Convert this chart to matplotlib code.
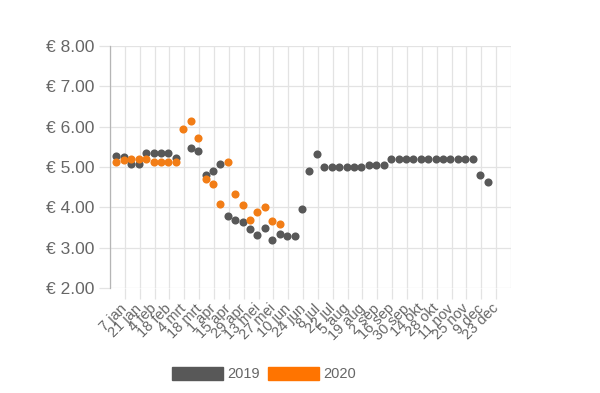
"""Weekly price per kg: 2019 vs 2020, scatter on a weekly time axis."""
import numpy as np
import pandas as pd
import matplotlib
matplotlib.use("Agg")
from matplotlib import pyplot as plt
from matplotlib.patches import Patch

# data (weekly, Sunday dates; 2020 plotted on the 2019 calendar)
start_date = "2018-12-30"
prices_2019 = [5.28, 5.25, 5.07, 5.07, 5.34, 5.34, 5.34, 5.34, 5.22, np.nan,
               5.48, 5.40, 4.79, 4.90, 5.08, 3.78, 3.70, 3.64, 3.47, 3.32,
               3.50, 3.20, 3.34, 3.29, 3.29, 3.96, 4.90, 5.32, 4.99, 4.99,
               4.99, 4.99, 4.99, 4.99, 5.05, 5.05, 5.05, 5.19, 5.19, 5.19,
               5.19, 5.19, 5.19, 5.19, 5.19, 5.19, 5.19, 5.19, 5.19, 4.79,
               4.64]
prices_2020 = [5.13, 5.17, 5.19, 5.19, 5.19, 5.13, 5.13, 5.13, 5.13, 5.93,
               6.14, 5.72, 4.71, 4.57, 4.08, 5.13, 4.32, 4.05, 3.70, 3.88,
               4.02, 3.67, 3.59]
tick_labels = ["7 jan", "21 jan", "4 feb", "18 feb", "4 mrt", "18 mrt",
               "1 apr", "15 apr", "29 apr", "13 mei", "27 mei", "10 jun",
               "24 jun", "8 jul", "22 jul", "5 aug", "19 aug", "2 sep",
               "16 sep", "30 sep", "14 okt", "28 okt", "11 nov", "25 nov",
               "9 dec", "23 dec"]
series = ["2019", "2020"]

GRAY = "#585858"
ORANGE = "#f27d16"
TEXT = "#666666"
GRID = "#e3e3e3"

plt.rcParams["font.family"] = ["Liberation Sans", "DejaVu Sans"]

dates_2019 = pd.date_range(start_date, periods=len(prices_2019), freq="7D")
dates_2020 = pd.date_range(start_date, periods=len(prices_2020), freq="7D")
tick_dates = pd.date_range("2019-01-07", periods=len(tick_labels), freq="14D")
grid_dates = pd.date_range("2018-12-24", "2020-01-06", freq="14D")

fig = plt.figure(figsize=(6.0, 3.93), dpi=100)
ax = fig.add_axes([0.1835, 0.2664, 0.668, 0.6173])

ax.scatter(dates_2019, prices_2019, s=34, color=GRAY, zorder=3, linewidths=0)
ax.scatter(dates_2020, prices_2020, s=34, color=ORANGE, zorder=3, linewidths=0)

ax.set_xlim(grid_dates[0], grid_dates[-1])
ax.set_ylim(2, 8)

# vertical grid every two weeks, labels on the Mondays
for d in grid_dates:
    ax.axvline(d, color=GRID, lw=0.9, zorder=0)
ax.set_xticks(tick_dates)
ax.set_xticklabels(tick_labels, rotation=45, ha="right", va="center",
                   rotation_mode="anchor", fontsize=10.5, color=TEXT)

yticks = np.arange(2, 9)
ax.set_yticks(yticks)
ax.set_yticklabels([f"€ {v:.2f}" for v in yticks], fontsize=12.5, color=TEXT)
ax.yaxis.grid(True, color=GRID, lw=0.9, zorder=0)
ax.tick_params(axis="both", length=8, color=GRID, width=0.9)
ax.tick_params(axis="x", pad=5)
ax.tick_params(axis="y", pad=3)

for side in ["top", "right", "bottom"]:
    ax.spines[side].set_visible(False)
ax.spines["left"].set_color("#b5b5b5")
ax.spines["left"].set_linewidth(0.9)

handles = [Patch(facecolor=GRAY, edgecolor=GRAY),
           Patch(facecolor="#ff7400", edgecolor="#ff7400")]
fig.legend(handles, series, loc="center", bbox_to_anchor=(0.44, 0.048),
           ncol=2, frameon=False, fontsize=10.5, labelcolor=TEXT,
           handlelength=3.5, handleheight=1.0, handletextpad=0.25,
           columnspacing=0.6)

fig.savefig("out.png", dpi=100)
plt.close(fig)
